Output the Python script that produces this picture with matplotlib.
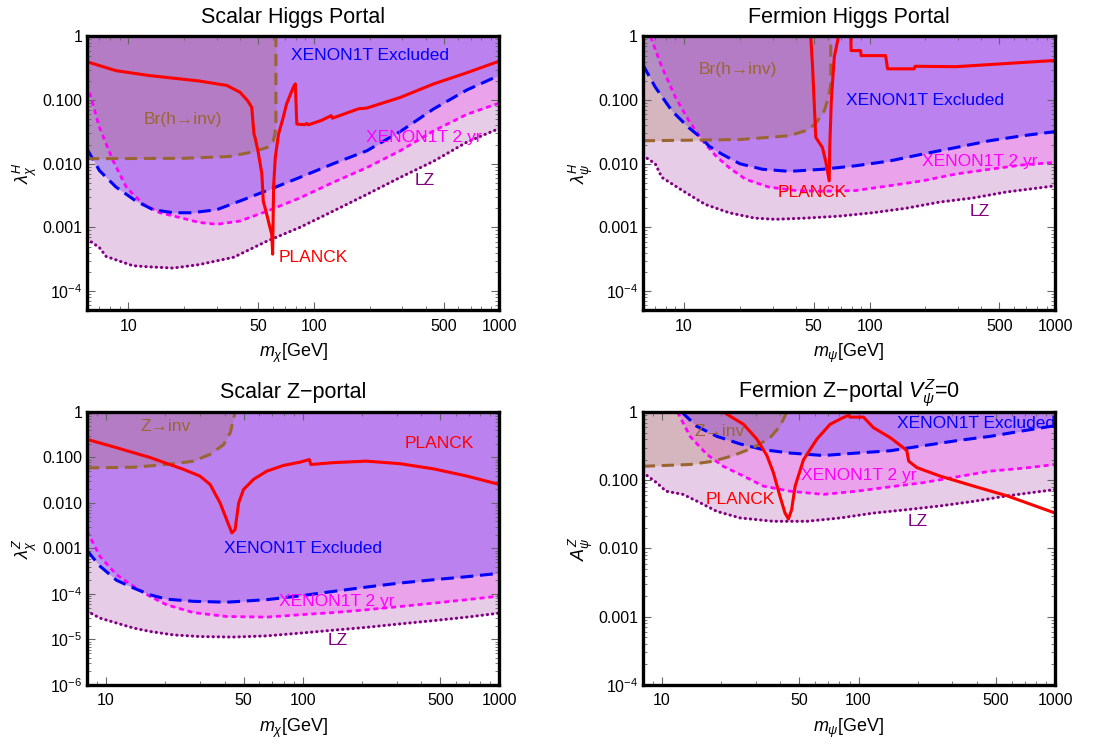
import numpy as np
import matplotlib.pyplot as plt
from matplotlib.ticker import FixedLocator, FixedFormatter, LogLocator, NullFormatter

plt.rcParams.update({
    "font.family": ["Liberation Sans", "DejaVu Sans"],
    "mathtext.fontset": "custom",
    "mathtext.rm": "Liberation Sans",
    "mathtext.it": "Liberation Sans:italic",
    "mathtext.bf": "Liberation Sans:bold",
})

nan = np.nan

# ---- Scalar Higgs portal ----
sh_x1_x = [6.0, 7.0, 8.6, 11, 13.6, 17.5, 22, 30, 40, 56, 84, 127, 193, 292, 443, 670, 1000]
sh_x1_y = [0.017, 0.0078, 0.0043, 0.0026, 0.0019, 0.0017, 0.0017, 0.0019, 0.0026, 0.0038,
           0.0061, 0.010, 0.016, 0.032, 0.073, 0.145, 0.245]
sh_x2_x = [6.0, 7.0, 8.3, 9.8, 12.1, 14.8, 19, 24, 30, 40, 56, 84, 127, 193, 292, 443, 670, 1000]
sh_x2_y = [0.18, 0.037, 0.011, 0.0042, 0.0023, 0.0017, 0.00143, 0.0012, 0.00112, 0.00126,
           0.0018, 0.0029, 0.0051, 0.0087, 0.016, 0.033, 0.06, 0.09]
sh_lz_x = [6.0, 7.0, 7.6, 10.6, 13, 17.5, 24, 37, 56, 84, 127, 193, 292, 443, 670, 1000]
sh_lz_y = [0.00066, 0.00048, 0.00035, 0.00025, 0.00024, 0.00023, 0.00026, 0.00034, 0.00061,
           0.001, 0.0018, 0.0033, 0.0061, 0.011, 0.022, 0.036]
sh_inv_x = [6.0, 20, 35, 45, 56, 60.5, 61.8, 62.5, 62.5]
sh_inv_y = [0.012, 0.0122, 0.013, 0.015, 0.018, 0.023, 0.03, 0.045, 1.0]
sh_pl_x = [6.0, 8.6, 13, 24, 34, 40, 44, 46.3, 47.6, 48.2, 50, 52.5, 53.4, 55.8, 58, 59.3, 60,
           60.7, 62, 64.5, 68.5, 71.3, 77.6, 79.5, 81, 89.5, 91.5, 93.5, 110, 124, 126, 174,
           193, 292, 443, 670, 1000]
sh_pl_y = [0.40, 0.29, 0.243, 0.20, 0.17, 0.133, 0.098, 0.077, 0.029, 0.026, 0.016, 0.0069,
           0.0026, 0.0016, 0.001, 0.00078, 0.00038, 0.0043, 0.0125, 0.029, 0.054, 0.087, 0.16,
           0.18, 0.042, 0.041, 0.043, 0.041, 0.048, 0.057, 0.052, 0.073, 0.075, 0.11, 0.18,
           0.27, 0.41]

# ---- Fermion Higgs portal ----
fh_x1_x = [6.0, 7.0, 8.6, 10.6, 12.6, 13.6, 16, 20, 26.5, 37, 56, 84, 127, 193, 292, 443, 670, 1000]
fh_x1_y = [0.36, 0.16, 0.068, 0.037, 0.0245, 0.019, 0.0142, 0.010, 0.0082, 0.0076, 0.0082,
           0.0093, 0.011, 0.0142, 0.018, 0.023, 0.0276, 0.032]
fh_x2_x = [6.6, 7.6, 9.0, 10.6, 12.6, 14.8, 17.5, 21.5, 28.7, 40, 56, 84, 127, 193, 292, 443, 670, 1000]
fh_x2_y = [1.0, 0.33, 0.11, 0.048, 0.023, 0.0134, 0.0087, 0.0057, 0.0043, 0.0038, 0.0037,
           0.0038, 0.0045, 0.0054, 0.0069, 0.0082, 0.0096, 0.0105]
fh_lz_x = [6.0, 7.0, 7.6, 9.8, 13, 17.5, 24, 31, 45, 68, 104, 157, 238, 360, 545, 1000]
fh_lz_y = [0.0135, 0.010, 0.0061, 0.0038, 0.0023, 0.0017, 0.0014, 0.00134, 0.0014, 0.0015,
           0.0017, 0.002, 0.0025, 0.0029, 0.0036, 0.0045]
fh_inv_x = [6.0, 20, 37, 45, 51, 57, 59.3, 61.5, 61.8, 61.8]
fh_inv_y = [0.023, 0.024, 0.0276, 0.033, 0.042, 0.068, 0.098, 0.16, 0.2, 1.0]
fh_pl_x = [48.2, 49.3, 51.3, 55.7, 58, 60.6, 61, 62.2, 64.5, 68, nan, 79.3, 79.5, 89.5, 90,
           122, 125, 174, 176, 292, 500, 1000]
fh_pl_y = [1.0, 0.33, 0.026, 0.018, 0.011, 0.0054, 0.018, 0.098, 0.47, 1.0, nan, 1.0, 0.6,
           0.6, 0.5, 0.5, 0.31, 0.31, 0.34, 0.335, 0.37, 0.42]

# ---- Scalar Z portal ----
sz_x1_x = [8.0, 9.3, 11.3, 13.8, 16.7, 20.3, 27.8, 41, 65.6, 97, 143, 211, 312, 464, 684, 1000]
sz_x1_y = [9e-4, 4.1e-4, 2.0e-4, 1.35e-4, 9.6e-5, 7.7e-5, 6.9e-5, 6.6e-5, 7.5e-5, 9.1e-5,
           1.14e-4, 1.42e-4, 1.74e-4, 2.06e-4, 2.4e-4, 2.85e-4]
sz_x2_x = [8.0, 9.3, 11.3, 13.8, 16.7, 20.3, 27.8, 41, 65.6, 97, 143, 211, 312, 464, 684, 1000]
sz_x2_y = [2.4e-3, 6.7e-4, 2.65e-4, 1.47e-4, 8.9e-5, 5.8e-5, 3.9e-5, 3.2e-5, 3.1e-5, 3.5e-5,
           3.9e-5, 4.5e-5, 5.3e-5, 6.3e-5, 7.5e-5, 9.0e-5]
sz_lz_x = [8.0, 9.3, 11.3, 13.8, 16.7, 22, 30, 44, 65.6, 97, 143, 211, 312, 464, 684, 1000]
sz_lz_y = [4.2e-5, 2.95e-5, 2.3e-5, 1.78e-5, 1.5e-5, 1.26e-5, 1.16e-5, 1.13e-5, 1.2e-5,
           1.38e-5, 1.6e-5, 1.85e-5, 2.2e-5, 2.6e-5, 3.1e-5, 3.8e-5]
sz_inv_x = [8.0, 13.8, 20.3, 27.8, 33.8, 39.5, 42.8, 44.4, 45.3]
sz_inv_y = [0.059, 0.061, 0.07, 0.083, 0.117, 0.19, 0.35, 0.69, 1.0]
sz_pl_x = [8.0, 11.3, 16.7, 24.7, 30, 33.8, 38, 41, 43.6, 45.3, 47.2, 50, 56.2, 65.6, 80, 97,
           108, 110, 143, 211, 312, 464, 684, 1000]
sz_pl_y = [0.25, 0.164, 0.10, 0.055, 0.039, 0.0255, 0.010, 0.0043, 0.0022, 0.0026, 0.010,
           0.0198, 0.033, 0.05, 0.067, 0.079, 0.09, 0.07, 0.077, 0.083, 0.073, 0.056, 0.039,
           0.0255]

# ---- Fermion Z portal ----
fz_x1_x = [12.6, 15, 19, 25, 32.8, 44.9, 66.3, 97.8, 144.5, 213, 316, 469, 689, 1000]
fz_x1_y = [1.0, 0.62, 0.44, 0.34, 0.28, 0.25, 0.23, 0.25, 0.27, 0.32, 0.38, 0.44, 0.53, 0.63]
fz_x2_x = [12.0, 13.9, 16.9, 20.5, 26, 32.8, 44.9, 66.3, 97.8, 144.5, 213, 316, 469, 689, 1000]
fz_x2_y = [1.0, 0.44, 0.24, 0.16, 0.115, 0.082, 0.069, 0.062, 0.069, 0.08, 0.092, 0.112,
           0.136, 0.15, 0.17]
fz_lz_x = [8.0, 9.4, 10.5, 12.8, 15.6, 19, 25, 36.8, 54.6, 80.8, 119, 176, 260, 385, 570, 1000]
fz_lz_y = [0.13, 0.092, 0.069, 0.062, 0.047, 0.035, 0.028, 0.025, 0.025, 0.028, 0.033, 0.037,
           0.042, 0.049, 0.059, 0.073]
fz_inv_x = [8.0, 13.9, 18.3, 23.1, 29.2, 35.5, 39.9, 43.2]
fz_inv_y = [0.16, 0.17, 0.19, 0.23, 0.3, 0.42, 0.62, 1.0]
fz_pl_x = [20.5, 26, 30.4, 34.2, 36.9, 39.8, 42.3, 44.0, 45.7, 47.6, 52.5, 61.4, 71.7, 83.7,
           88.9, 90.6, 106, 119, 145, 169, 176, 180, 198, 260, 385, 570, 1000]
fz_pl_y = [1.0, 0.66, 0.4, 0.23, 0.129, 0.059, 0.033, 0.027, 0.037, 0.082, 0.2, 0.4, 0.66,
           0.83, 0.89, 0.84, 0.84, 0.59, 0.42, 0.3, 0.27, 0.19, 0.153, 0.115, 0.082, 0.059,
           0.033]

BLUE, MAGENTA, PURPLE, BROWN, RED = "#0000FF", "#FF00FF", "#800080", "#996633", "#FF0000"


def draw_panel(ax, title, xlabel, ylabel, xlim, ylim, yticks, ylabels,
               lz, x2, x1, inv, pl, texts):
    top = 10.0
    ax.fill_between(lz[0], lz[1], top, color="#E6CCE6", lw=0, zorder=1)
    ax.fill_between(x2[0], x2[1], top, color=MAGENTA, alpha=0.2, lw=0, zorder=1)
    ax.fill_between(x1[0], x1[1], top, color="#8259F5", alpha=0.45, lw=0, zorder=1)
    ax.fill_between(inv[0], inv[1], top, color="#A06E3C", alpha=0.23, lw=0, zorder=1)

    ax.plot(lz[0], lz[1], color=PURPLE, lw=2.2, dashes=(0.1, 1.6),
            dash_capstyle="round", zorder=3)
    ax.plot(x2[0], x2[1], color=MAGENTA, lw=2.0, dashes=(1.8, 1.4), zorder=3)
    ax.plot(x1[0], x1[1], color=BLUE, lw=2.2, dashes=(4.2, 2.2), zorder=3)
    ax.plot(inv[0], inv[1], color=BROWN, lw=2.2, dashes=(4.0, 2.2), zorder=3)
    ax.plot(pl[0], pl[1], color=RED, lw=2.2, zorder=4)

    for s, x, y, c in texts:
        ax.text(x, y, s, color=c, fontsize=12.5, ha="center", va="center", zorder=5,
                family=["Liberation Sans", "DejaVu Sans"])

    ax.set_xscale("log")
    ax.set_yscale("log")
    ax.set_xlim(*xlim)
    ax.set_ylim(*ylim)

    ax.xaxis.set_major_locator(FixedLocator([10, 50, 100, 500, 1000]))
    ax.xaxis.set_major_formatter(FixedFormatter(["10", "50", "100", "500", "1000"]))
    ax.xaxis.set_minor_locator(LogLocator(base=10, subs=np.arange(2, 10)))
    ax.xaxis.set_minor_formatter(NullFormatter())
    ax.yaxis.set_major_locator(FixedLocator(yticks))
    ax.yaxis.set_major_formatter(FixedFormatter(ylabels))
    ax.yaxis.set_minor_locator(LogLocator(base=10, subs=np.arange(2, 10), numticks=20))
    ax.yaxis.set_minor_formatter(NullFormatter())

    ax.tick_params(which="both", direction="in", top=True, right=True,
                   color="#666666", labelsize=11.5)
    ax.tick_params(which="major", length=6, width=0.8)
    ax.tick_params(which="minor", length=3, width=0.6)
    ax.tick_params(axis="x", pad=6)
    for sp in ax.spines.values():
        sp.set_linewidth(2.4)
        sp.set_zorder(6)

    ax.set_title(title, fontsize=15.5, pad=10)
    ax.set_xlabel(xlabel, fontsize=13, labelpad=6)
    ax.set_ylabel(ylabel, fontsize=13, labelpad=2)


fig = plt.figure(figsize=(11.16, 7.44), dpi=100)
ax1 = fig.add_axes([0.078, 0.583, 0.3695, 0.368])
ax2 = fig.add_axes([0.576, 0.583, 0.3695, 0.368])
ax3 = fig.add_axes([0.078, 0.0793, 0.3695, 0.367])
ax4 = fig.add_axes([0.576, 0.0793, 0.3695, 0.367])

hy_ticks = [1, 0.1, 0.01, 0.001, 1e-4]
hy_labels = ["1", "0.100", "0.010", "0.001", "$10^{-4}$"]

draw_panel(ax1, "Scalar Higgs Portal", r"$m_\chi$[GeV]", r"$\lambda^H_\chi$",
           (6, 1000), (5e-5, 1), hy_ticks, hy_labels,
           (sh_lz_x, sh_lz_y), (sh_x2_x, sh_x2_y), (sh_x1_x, sh_x1_y),
           (sh_inv_x, sh_inv_y), (sh_pl_x, sh_pl_y),
           [("XENON1T Excluded", 200, 0.5, BLUE),
            ("Br(h\u2192inv)", 19.8, 0.05, BROWN),
            ("XENON1T 2 yr", 390, 0.026, MAGENTA),
            ("LZ", 398, 0.0054, PURPLE),
            ("PLANCK", 99.6, 3.4e-4, RED)])

draw_panel(ax2, "Fermion Higgs Portal", r"$m_\psi$[GeV]", r"$\lambda^H_\psi$",
           (6, 1000), (5e-5, 1), hy_ticks, hy_labels,
           (fh_lz_x, fh_lz_y), (fh_x2_x, fh_x2_y), (fh_x1_x, fh_x1_y),
           (fh_inv_x, fh_inv_y), (fh_pl_x, fh_pl_y),
           [("Br(h\u2192inv)", 19.6, 0.30, BROWN),
            ("XENON1T Excluded", 198, 0.1, BLUE),
            ("XENON1T 2 yr", 390, 0.0108, MAGENTA),
            ("PLANCK", 48.8, 0.0035, RED),
            ("LZ", 394, 0.0018, PURPLE)])

draw_panel(ax3, "Scalar Z\u2212portal", r"$m_\chi$[GeV]", r"$\lambda^Z_\chi$",
           (8, 1000), (1e-6, 1), [1, 0.1, 0.01, 0.001, 1e-4, 1e-5, 1e-6],
           ["1", "0.100", "0.010", "0.001", "$10^{-4}$", "$10^{-5}$", "$10^{-6}$"],
           (sz_lz_x, sz_lz_y), (sz_x2_x, sz_x2_y), (sz_x1_x, sz_x1_y),
           (sz_inv_x, sz_inv_y), (sz_pl_x, sz_pl_y),
           [("Z\u2192inv", 20, 0.49, BROWN),
            ("PLANCK", 497, 0.2, RED),
            ("XENON1T Excluded", 100, 0.00098, BLUE),
            ("XENON1T 2 yr", 149, 6.9e-5, MAGENTA),
            ("LZ", 150, 9.5e-6, PURPLE)])

draw_panel(ax4, "Fermion Z\u2212portal $V^Z_\\psi$=0", r"$m_\psi$[GeV]", r"$A^Z_\psi$",
           (8, 1000), (1e-4, 1), hy_ticks, hy_labels,
           (fz_lz_x, fz_lz_y), (fz_x2_x, fz_x2_y), (fz_x1_x, fz_x1_y),
           (fz_inv_x, fz_inv_y), (fz_pl_x, fz_pl_y),
           [("Z\u2192inv", 19.7, 0.51, BROWN),
            ("XENON1T Excluded", 398, 0.68, BLUE),
            ("XENON1T 2 yr", 100, 0.118, MAGENTA),
            ("PLANCK", 24.9, 0.052, RED),
            ("LZ", 200, 0.025, PURPLE)])

fig.savefig("out.png", dpi=100)
